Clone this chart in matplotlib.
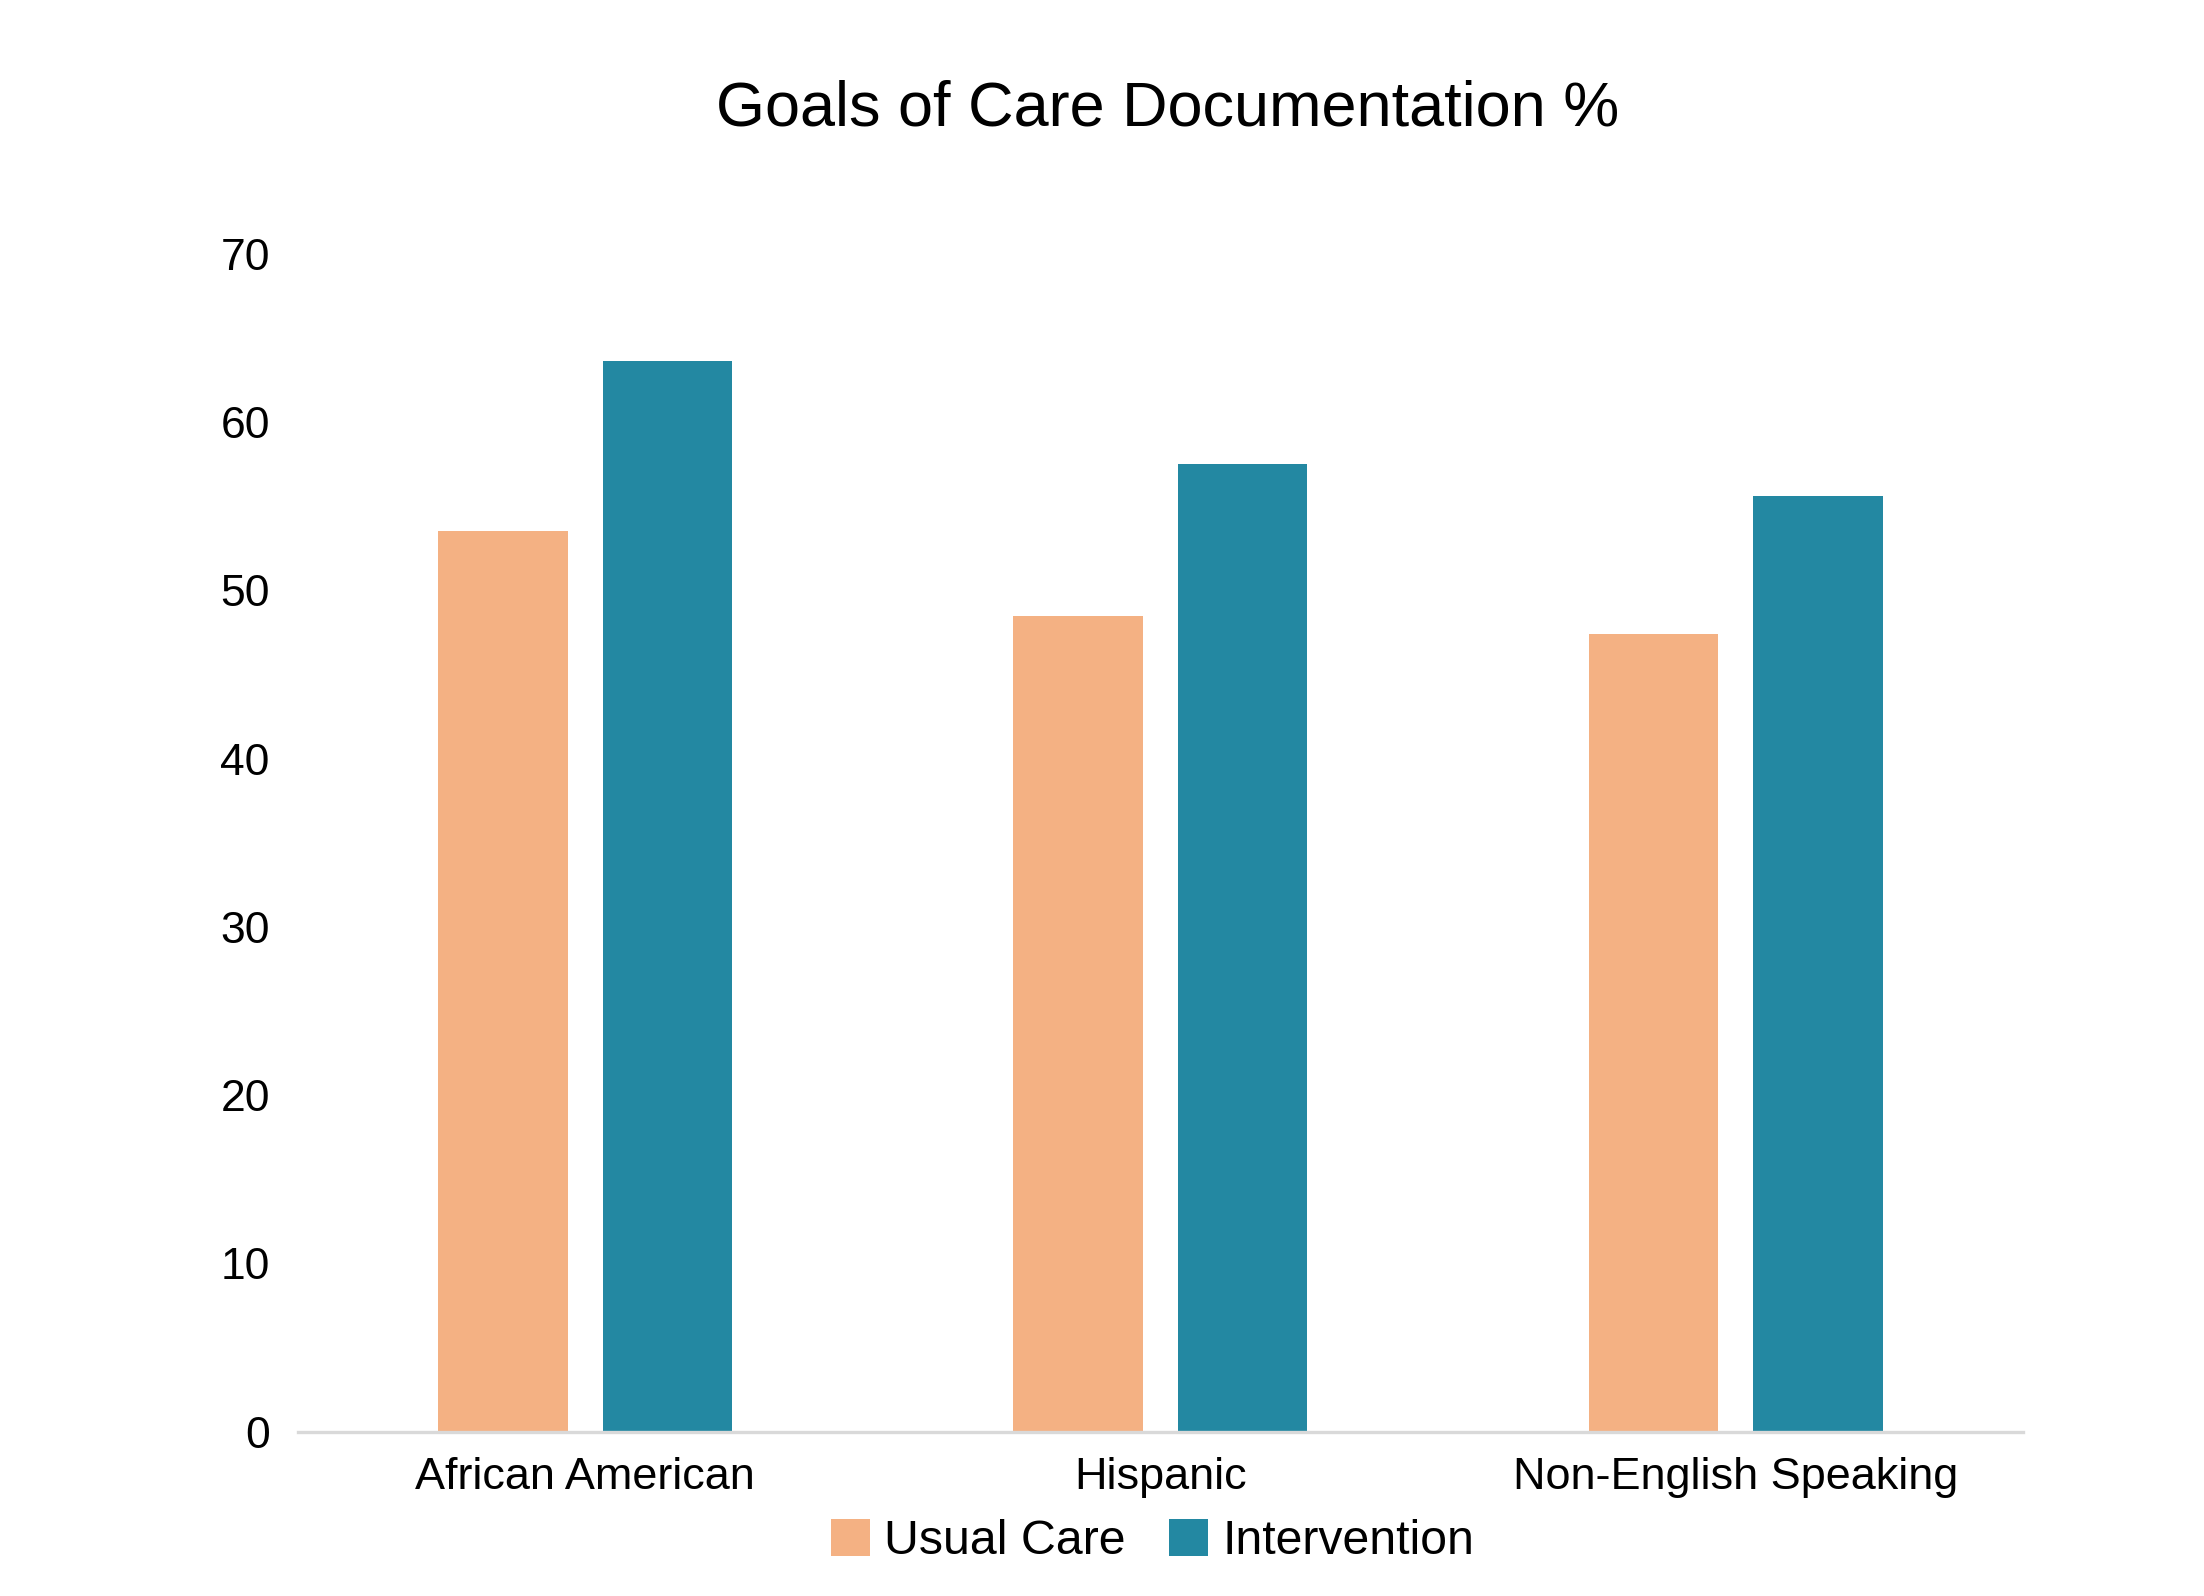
import matplotlib
matplotlib.use("Agg")
import matplotlib.pyplot as plt
import numpy as np

# data
categories = ["African American", "Hispanic", "Non-English Speaking"]
usual_care = [53.5, 48.5, 47.4]
intervention = [63.6, 57.5, 55.6]
series_names = ["Usual Care", "Intervention"]
yticks = [0, 10, 20, 30, 40, 50, 60, 70]

peach = "#F4B183"
teal = "#2388A2"

plt.rcParams["font.family"] = ["Liberation Sans", "DejaVu Sans"]

fig = plt.figure(figsize=(11.02, 7.98), dpi=200)
ax = fig.add_axes([0.135, 0.103, 0.783, 0.738])

x = np.arange(len(categories))
w = 0.225
off = 0.143
ax.bar(x - off, usual_care, width=w, color=peach, label=series_names[0])
ax.bar(x + off, intervention, width=w, color=teal, label=series_names[1])

ax.set_xlim(-0.5, len(categories) - 0.5)
ax.set_ylim(0, 70)
ax.set_yticks(yticks)
ax.set_xticks(x)
ax.set_xticklabels(categories, fontsize=16.2)
ax.tick_params(axis="y", labelsize=16, length=0, pad=10)
ax.tick_params(axis="x", length=0, pad=9)

for s in ["top", "right", "left"]:
    ax.spines[s].set_visible(False)
ax.spines["bottom"].set_color("#D9D9D9")
ax.spines["bottom"].set_linewidth(1.2)

fig.text(0.53, 0.932, "Goals of Care Documentation %", fontsize=22.7,
         ha="center", va="center")

fig.legend(loc="center", bbox_to_anchor=(0.523, 0.034), ncol=2, frameon=False,
           fontsize=17.4, handlelength=0.8, handleheight=0.8, handletextpad=0.3,
           columnspacing=0.9)

fig.savefig("out.png", dpi=200)
